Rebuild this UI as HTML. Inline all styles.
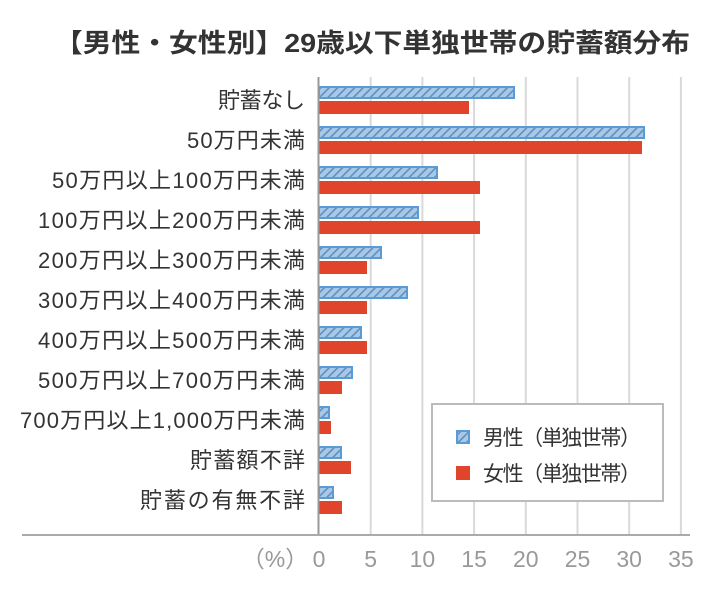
<!DOCTYPE html>
<html><head><meta charset="utf-8"><style>
body{margin:0;background:#fff;}
svg text{font-family:"Liberation Sans","Noto Sans CJK JP",sans-serif;}
</style></head><body>
<svg width="712" height="587" viewBox="0 0 712 587" xmlns="http://www.w3.org/2000/svg">
<defs>
<pattern id="h" patternUnits="userSpaceOnUse" width="6" height="6" patternTransform="rotate(45)">
<rect width="6" height="6" fill="#a9c8e4"/>
<rect x="0" y="0" width="1.6" height="6" fill="#5b8fc8"/>
</pattern>
</defs>
<rect width="712" height="587" fill="#fff"/>
<text x="372" y="52" font-size="26" font-weight="bold" fill="#333" text-anchor="middle" textLength="636" lengthAdjust="spacingAndGlyphs">【男性・女性別】29歳以下単独世帯の貯蓄額分布</text>
<g stroke="#d9d9d9" stroke-width="2">
<line x1="370.7" y1="77" x2="370.7" y2="535"/>
<line x1="422.4" y1="77" x2="422.4" y2="535"/>
<line x1="474.1" y1="77" x2="474.1" y2="535"/>
<line x1="525.8" y1="77" x2="525.8" y2="535"/>
<line x1="577.5" y1="77" x2="577.5" y2="535"/>
<line x1="629.2" y1="77" x2="629.2" y2="535"/>
<line x1="680.9" y1="77" x2="680.9" y2="535"/>
</g>
<g font-size="22" fill="#333" lengthAdjust="spacingAndGlyphs">
<text x="218" y="108" textLength="87">貯蓄なし</text>
<text x="187" y="148" textLength="118">50万円未満</text>
<text x="52" y="188" textLength="253">50万円以上100万円未満</text>
<text x="38" y="228" textLength="267">100万円以上200万円未満</text>
<text x="38" y="268" textLength="267">200万円以上300万円未満</text>
<text x="38" y="308" textLength="267">300万円以上400万円未満</text>
<text x="38" y="348" textLength="267">400万円以上500万円未満</text>
<text x="38" y="388" textLength="267">500万円以上700万円未満</text>
<text x="20" y="428" textLength="285">700万円以上1,000万円未満</text>
<text x="190" y="468" textLength="115">貯蓄額不詳</text>
<text x="140" y="508" textLength="165">貯蓄の有無不詳</text>
</g>
<g stroke="#5b9bd5" stroke-width="2" fill="url(#h)">
<rect x="319" y="87" width="195" height="11"/>
<rect x="319" y="127" width="325" height="11"/>
<rect x="319" y="167" width="118" height="11"/>
<rect x="319" y="207" width="99" height="11"/>
<rect x="319" y="247" width="62" height="11"/>
<rect x="319" y="287" width="88" height="11"/>
<rect x="319" y="327" width="42" height="11"/>
<rect x="319" y="367" width="33" height="11"/>
<rect x="319" y="407" width="10" height="11"/>
<rect x="319" y="447" width="22" height="11"/>
<rect x="319" y="487" width="14" height="11"/>
</g>
<g fill="#e0452b">
<rect x="319" y="101" width="150" height="13"/>
<rect x="319" y="141" width="323" height="13"/>
<rect x="319" y="181" width="161" height="13"/>
<rect x="319" y="221" width="161" height="13"/>
<rect x="319" y="261" width="48" height="13"/>
<rect x="319" y="301" width="48" height="13"/>
<rect x="319" y="341" width="48" height="13"/>
<rect x="319" y="381" width="23" height="13"/>
<rect x="319" y="421" width="12" height="13"/>
<rect x="319" y="461" width="32" height="13"/>
<rect x="319" y="501" width="23" height="13"/>
</g>
<line x1="318.5" y1="77" x2="318.5" y2="535" stroke="#999" stroke-width="2"/>
<line x1="22" y1="535" x2="690" y2="535" stroke="#aaa" stroke-width="2"/>
<g font-size="23" fill="#999" text-anchor="middle">
<text x="275" y="567">（%）</text>
<text x="319" y="567">0</text>
<text x="370.7" y="567">5</text>
<text x="422.4" y="567">10</text>
<text x="474.1" y="567">15</text>
<text x="525.8" y="567">20</text>
<text x="577.5" y="567">25</text>
<text x="629.2" y="567">30</text>
<text x="680.9" y="567">35</text>
</g>
<rect x="432" y="404" width="231" height="97" fill="#fff" stroke="#bbb" stroke-width="2"/>
<rect x="457" y="431" width="12" height="12" fill="url(#h)" stroke="#5b9bd5" stroke-width="2"/>
<rect x="456" y="466" width="14" height="14" fill="#e0452b"/>
<g font-size="21" fill="#333" lengthAdjust="spacingAndGlyphs">
<text x="483" y="445" textLength="158">男性（単独世帯）</text>
<text x="483" y="481" textLength="158">女性（単独世帯）</text>
</g>
</svg>
</body></html>
